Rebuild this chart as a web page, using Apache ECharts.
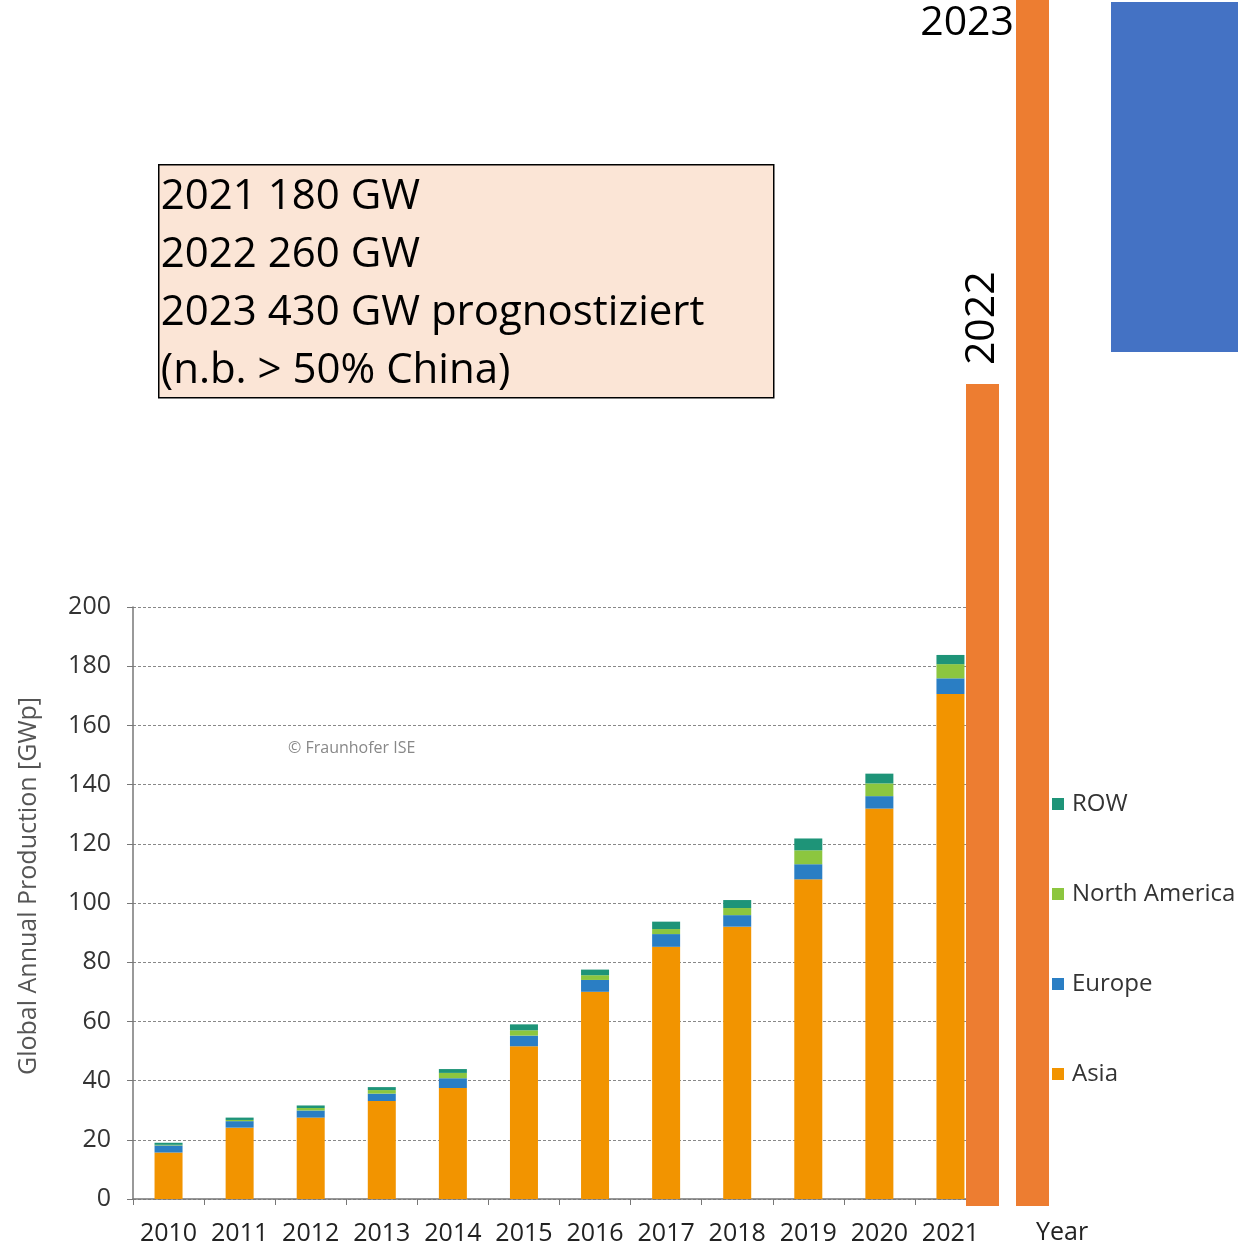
<!DOCTYPE html>
<html>
<head>
<meta charset="utf-8">
<script src="https://cdn.jsdelivr.net/npm/echarts@6/dist/echarts.min.js"></script>
<style>
  html, body { margin: 0; padding: 0; background: #ffffff; }
  #chart { width: 1238px; height: 1246px; }
</style>
</head>
<body>
<div id="chart"></div>
<script>
// ---- Data ----
const years = ['2010','2011','2012','2013','2014','2015','2016','2017','2018','2019','2020','2021'];
const asia         = [15.7, 24.1, 27.5, 33.1, 37.5, 51.6, 70.0, 85.2, 92.0, 108.0, 131.9, 170.6];
const europe       = [2.4,  2.2,  2.4,  2.5,  3.3,  3.6,  4.0,  4.3,  3.9,  5.1,  4.2,  5.3];
const northAmerica = [0.2,  0.4,  0.85, 1.2,  1.8,  1.8,  1.6,  1.7,  2.4,  4.7,  4.3,  4.8];
const row          = [0.7,  0.8,  0.85, 1.0,  1.3,  2.0,  1.9,  2.5,  2.7,  4.0,  3.3,  3.1];
const yTicks = { min: 0, max: 200, interval: 20 };

const overlayYears  = ['2022', '2023'];
const overlayValues = [260, 430];

const boxLines = ['2021 180 GW', '2022 260 GW', '2023 430 GW prognostiziert', '(n.b. > 50% China)'];
const legendOrder = ['ROW', 'North America', 'Europe', 'Asia'];

// ---- Chart ----
const chart = echarts.init(document.getElementById('chart'), null, { renderer: 'canvas' });
const FONT = '"Open Sans", "Noto Sans", sans-serif';

const stackBar = (name, data, color) => ({
  name, type: 'bar', stack: 'prod', data,
  xAxisIndex: 0, yAxisIndex: 0,
  barWidth: 28,
  itemStyle: { color },
  emphasis: { disabled: true }
});

const option = {
  animation: false,
  backgroundColor: '#ffffff',
  textStyle: { fontFamily: FONT },
  grid: [
    { left: 133, top: 607, width: 853, height: 592 },
    { left: 957.5, top: 0, width: 100, bottom: 40 }
  ],
  legend: {
    orient: 'vertical',
    left: 1047, top: 786,
    data: legendOrder,
    icon: 'rect',
    itemWidth: 12, itemHeight: 12,
    itemGap: 64,
    textStyle: { fontFamily: FONT, fontSize: 24, color: '#333', lineHeight: 26, padding: [0, 0, 0, 3] },
    selectedMode: false
  },
  xAxis: [
    {
      type: 'category', gridIndex: 0, data: years,
      axisLine: { lineStyle: { color: '#777', width: 1.5 } },
      axisTick: { show: true, alignWithLabel: false, length: 6, lineStyle: { color: '#777' } },
      axisLabel: { interval: 0, fontFamily: FONT, fontSize: 25, color: '#222', margin: 22 }
    },
    {
      type: 'category', gridIndex: 1, data: overlayYears, show: false
    }
  ],
  yAxis: [
    {
      type: 'value', gridIndex: 0,
      min: yTicks.min, max: yTicks.max, interval: yTicks.interval,
      name: 'Global Annual Production [GWp]',
      nameLocation: 'middle', nameGap: 92,
      nameTextStyle: { fontFamily: FONT, fontSize: 25, color: '#555', padding: [0, 0, 0, 34] },
      axisLine: { show: true, lineStyle: { color: '#777', width: 1.5 } },
      axisTick: { show: true, length: 6, lineStyle: { color: '#777' } },
      axisLabel: { fontFamily: FONT, fontSize: 25, color: '#333', margin: 22 },
      splitLine: { show: true, lineStyle: { color: '#888', type: [3, 2], width: 1 } }
    },
    {
      type: 'value', gridIndex: 1, min: 0, max: 381.5, show: false,
      splitLine: { show: false }
    }
  ],
  series: [
    stackBar('Asia', asia, '#F29400'),
    stackBar('Europe', europe, '#2A7EC4'),
    stackBar('North America', northAmerica, '#8CC63F'),
    stackBar('ROW', row, '#1E9478'),
    {
      name: 'Prognose', type: 'bar', xAxisIndex: 1, yAxisIndex: 1,
      barWidth: 33, clip: true, z: 5,
      itemStyle: { color: '#ED7D31' },
      emphasis: { disabled: true },
      data: overlayValues.map((v, i) => ({
        value: v,
        label: i === 0
          ? { show: true, position: 'top', distance: 19, rotate: 90, align: 'left', verticalAlign: 'middle',
              formatter: overlayYears[i], fontFamily: FONT, fontSize: 41, color: '#000' }
          : { show: true, position: [-2, 23], align: 'right', verticalAlign: 'middle',
              formatter: overlayYears[i], fontFamily: FONT, fontSize: 41, color: '#000' }
      }))
    }
  ],
  graphic: [
    {
      type: 'rect', left: 1111, top: 2, z: 1,
      shape: { width: 127, height: 350 },
      style: { fill: '#4472C4' }
    },
    {
      type: 'group', left: 158, top: 164, z: 10,
      children: [
        { type: 'rect', shape: { x: 0, y: 0, width: 615, height: 233 },
          style: { fill: '#FBE5D6', stroke: '#000', lineWidth: 1.5 } },
        { type: 'text', x: 2, y: 3,
          style: { text: boxLines.join('\n'), fontFamily: FONT, fontSize: 42, lineHeight: 58, fill: '#000' } }
      ]
    },
    {
      type: 'text', left: 288, top: 740, z: 10,
      style: { text: '\u00A9 Fraunhofer ISE', fontFamily: FONT, fontSize: 16, fill: '#888' }
    },
    {
      type: 'text', left: 1036, top: 1220, z: 10,
      style: { text: 'Year', fontFamily: FONT, fontSize: 25, fill: '#222' }
    }
  ]
};
chart.setOption(option);
</script>
</body>
</html>
